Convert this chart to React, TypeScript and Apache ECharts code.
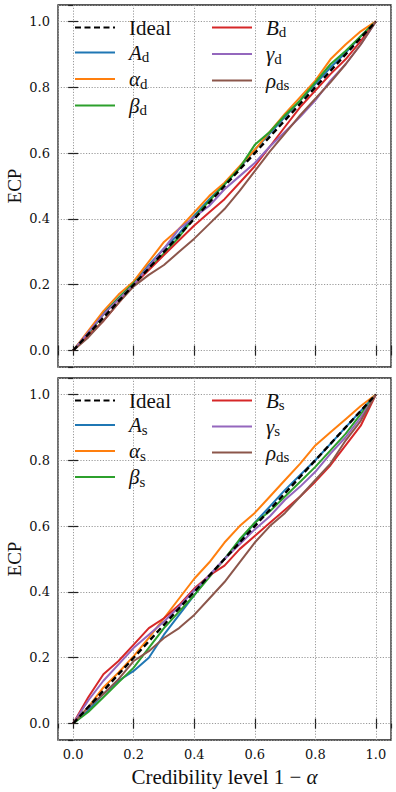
import React, { useEffect, useRef } from "react";
import * as echarts from "echarts";

// Credibility level 1 - alpha (x values)
const credibility = [0, 0.05, 0.1, 0.15, 0.2, 0.25, 0.3, 0.35, 0.4, 0.45, 0.5, 0.55, 0.6, 0.65, 0.7, 0.75, 0.8, 0.85, 0.9, 0.95, 1.0];
const ideal = [0, 0.05, 0.1, 0.15, 0.2, 0.25, 0.3, 0.35, 0.4, 0.45, 0.5, 0.55, 0.6, 0.65, 0.7, 0.75, 0.8, 0.85, 0.9, 0.95, 1.0];

// Top panel (d)
const A_d = [0, 0.055, 0.115, 0.16, 0.205, 0.26, 0.31, 0.355, 0.41, 0.46, 0.505, 0.555, 0.61, 0.66, 0.71, 0.76, 0.81, 0.86, 0.905, 0.955, 1.0];
const alpha_d = [0, 0.06, 0.12, 0.17, 0.21, 0.27, 0.33, 0.37, 0.42, 0.47, 0.51, 0.56, 0.61, 0.665, 0.72, 0.77, 0.82, 0.885, 0.93, 0.97, 1.0];
const beta_d = [0, 0.05, 0.11, 0.16, 0.205, 0.25, 0.295, 0.345, 0.405, 0.455, 0.505, 0.555, 0.625, 0.665, 0.715, 0.76, 0.815, 0.87, 0.91, 0.955, 1.0];
const B_d = [0, 0.045, 0.09, 0.145, 0.2, 0.245, 0.29, 0.335, 0.38, 0.42, 0.46, 0.51, 0.56, 0.62, 0.68, 0.74, 0.79, 0.84, 0.885, 0.94, 1.0];
const gamma_d = [0, 0.055, 0.11, 0.155, 0.2, 0.255, 0.31, 0.37, 0.405, 0.44, 0.49, 0.53, 0.57, 0.62, 0.665, 0.71, 0.76, 0.82, 0.87, 0.93, 1.0];
const rho_top = [0, 0.04, 0.09, 0.145, 0.195, 0.23, 0.26, 0.3, 0.34, 0.385, 0.43, 0.485, 0.545, 0.605, 0.66, 0.715, 0.765, 0.815, 0.87, 0.93, 1.0];

// Bottom panel (s)
const A_s = [0, 0.04, 0.09, 0.13, 0.16, 0.2, 0.27, 0.33, 0.39, 0.45, 0.5, 0.555, 0.61, 0.66, 0.71, 0.755, 0.8, 0.85, 0.9, 0.95, 1.0];
const alpha_s = [0, 0.05, 0.11, 0.155, 0.205, 0.26, 0.32, 0.38, 0.44, 0.49, 0.55, 0.6, 0.64, 0.69, 0.74, 0.79, 0.845, 0.885, 0.925, 0.965, 1.0];
const beta_s = [0, 0.035, 0.08, 0.125, 0.17, 0.23, 0.29, 0.34, 0.39, 0.445, 0.5, 0.56, 0.61, 0.645, 0.69, 0.735, 0.78, 0.83, 0.88, 0.94, 1.0];
const B_s = [0, 0.08, 0.15, 0.19, 0.24, 0.29, 0.32, 0.36, 0.41, 0.45, 0.48, 0.53, 0.57, 0.61, 0.65, 0.69, 0.735, 0.785, 0.845, 0.905, 1.0];
const gamma_s = [0, 0.07, 0.13, 0.18, 0.23, 0.27, 0.31, 0.355, 0.405, 0.45, 0.5, 0.545, 0.59, 0.63, 0.68, 0.72, 0.765, 0.82, 0.87, 0.93, 1.0];
const rho_bottom = [0, 0.05, 0.09, 0.135, 0.19, 0.22, 0.26, 0.29, 0.33, 0.38, 0.43, 0.49, 0.55, 0.6, 0.64, 0.69, 0.74, 0.79, 0.86, 0.92, 1.0];

const COLORS = {
  blue: "#1f77b4",
  orange: "#ff7f0e",
  green: "#2ca02c",
  red: "#d62728",
  purple: "#9467bd",
  brown: "#8c564b",
};

// legend labels: italic symbol + roman subscript
const legendLabels: Record<string, [string, string]> = {
  A_d: ["A", "d"],
  alpha_d: ["α", "d"],
  beta_d: ["β", "d"],
  B_d: ["B", "d"],
  gamma_d: ["γ", "d"],
  rho_d: ["ρ", "ds"],
  A_s: ["A", "s"],
  alpha_s: ["α", "s"],
  beta_s: ["β", "s"],
  B_s: ["B", "s"],
  gamma_s: ["γ", "s"],
  rho_s: ["ρ", "ds"],
};

const SERIF = "'Liberation Serif', 'DejaVu Serif', serif";
const TICK_FONT = "'DejaVu Serif', serif";

function pairs(ys: number[]) {
  return credibility.map((x, i) => [x, ys[i]]);
}

export default function App() {
  const ref = useRef<HTMLDivElement>(null);
  useEffect(() => {
    if (!ref.current) return;
    const chart = echarts.init(ref.current, null, { renderer: "svg" });

    const grids = [
      { left: 58, top: 5, width: 333, height: 362 },
      { left: 58, top: 378, width: 333, height: 362 },
    ];

    const gridLine = { show: true, lineStyle: { color: "#9a9a9a", type: [1.2, 1.6], width: 1 } };
    const tick = { show: true, inside: true, length: 5, lineStyle: { color: "#222", width: 1.2 } };

    const xAxis: any[] = [];
    const yAxis: any[] = [];
    [0, 1].forEach((g) => {
      xAxis.push({
        type: "value", gridIndex: g, min: -0.05, max: 1.05, position: "bottom",
        axisLine: { show: false }, axisTick: tick, splitLine: gridLine,
        axisLabel: {
          show: g === 1, showMinLabel: false, showMaxLabel: false, margin: 8,
          formatter: (v: number) => v.toFixed(1), fontFamily: TICK_FONT, fontSize: 13, color: "#111",
        },
        name: g === 1 ? "{n|Credibility level 1 − }{i|α}" : "",
        nameLocation: "middle", nameGap: 26, nameMoveOverlap: false,
        nameTextStyle: {
          rich: {
            n: { fontFamily: SERIF, fontSize: 21, color: "#111" },
            i: { fontFamily: SERIF, fontSize: 21, fontStyle: "italic", color: "#111" },
          },
        },
      });
      xAxis.push({
        type: "value", gridIndex: g, min: -0.05, max: 1.05, position: "top",
        axisLine: { show: false }, axisTick: tick, splitLine: { show: false }, axisLabel: { show: false },
      });
      yAxis.push({
        type: "value", gridIndex: g, min: -0.05, max: 1.05, position: "left",
        axisLine: { show: false }, axisTick: tick, splitLine: gridLine,
        axisLabel: {
          showMinLabel: false, showMaxLabel: false, margin: 8,
          formatter: (v: number) => v.toFixed(1), fontFamily: TICK_FONT, fontSize: 13, color: "#111",
        },
        name: "ECP", nameLocation: "middle", nameGap: 34, nameMoveOverlap: false,
        nameTextStyle: { fontFamily: SERIF, fontSize: 19, color: "#111" },
      });
      yAxis.push({
        type: "value", gridIndex: g, min: -0.05, max: 1.05, position: "right",
        axisLine: { show: false }, axisTick: tick, splitLine: { show: false }, axisLabel: { show: false },
      });
    });

    const mk = (name: string, ys: number[], color: string, g: number, dashed = false) => ({
      name, type: "line", data: pairs(ys), xAxisIndex: g * 2, yAxisIndex: g * 2,
      symbol: "none", smooth: false, z: dashed ? 5 : 2,
      lineStyle: { color, width: dashed ? 2.4 : 2, type: dashed ? [6, 3.5] : "solid" },
      itemStyle: { color },
    });

    const series = [
      mk("A_d", A_d, COLORS.blue, 0),
      mk("alpha_d", alpha_d, COLORS.orange, 0),
      mk("beta_d", beta_d, COLORS.green, 0),
      mk("B_d", B_d, COLORS.red, 0),
      mk("gamma_d", gamma_d, COLORS.purple, 0),
      mk("rho_d", rho_top, COLORS.brown, 0),
      mk("Ideal_d", ideal, "#000", 0, true),
      mk("A_s", A_s, COLORS.blue, 1),
      mk("alpha_s", alpha_s, COLORS.orange, 1),
      mk("beta_s", beta_s, COLORS.green, 1),
      mk("B_s", B_s, COLORS.red, 1),
      mk("gamma_s", gamma_s, COLORS.purple, 1),
      mk("rho_s", rho_bottom, COLORS.brown, 1),
      mk("Ideal_s", ideal, "#000", 1, true),
    ];

    const rich = {
      p: { fontFamily: SERIF, fontSize: 21, color: "#111", lineHeight: 24, padding: [0, 0, 0, 9] },
      m: { fontFamily: SERIF, fontSize: 21, fontStyle: "italic", color: "#111", lineHeight: 24, padding: [0, 0, 0, 9] },
      s: { fontFamily: SERIF, fontSize: 15, color: "#111", lineHeight: 10, verticalAlign: "bottom" },
    };
    const formatter = (name: string) => {
      if (name.startsWith("Ideal")) return "{p|Ideal}";
      const l = legendLabels[name];
      return `{m|${l[0]}}{s|${l[1]}}`;
    };
    const legendBase = {
      orient: "vertical", padding: 0, itemWidth: 40, itemHeight: 14, selectedMode: false,
      itemStyle: { opacity: 0 },
      formatter, textStyle: { rich },
    };
    const legend = [
      { ...legendBase, left: 74, top: 17, itemGap: 4, data: ["Ideal_d", "A_d", "alpha_d", "beta_d"] },
      { ...legendBase, left: 211, top: 17, itemGap: 4, data: ["B_d", "gamma_d", "rho_d"] },
      { ...legendBase, left: 74, top: 390, itemGap: 3.5, data: ["Ideal_s", "A_s", "alpha_s", "beta_s"] },
      { ...legendBase, left: 211, top: 390, itemGap: 3.5, data: ["B_s", "gamma_s", "rho_s"] },
    ];

    chart.setOption({
      animation: false,
      backgroundColor: "#fff",
      grid: grids.map((g) => ({
        ...g, show: true, borderColor: "#222", borderWidth: 1.3, backgroundColor: "transparent",
        containLabel: false, outerBoundsMode: "none",
      })),
      xAxis, yAxis, series, legend,
    });
    return () => chart.dispose();
  }, []);

  return <div ref={ref} style={{ position: "fixed", left: 0, top: 0, width: 396, height: 792 }} />;
}
